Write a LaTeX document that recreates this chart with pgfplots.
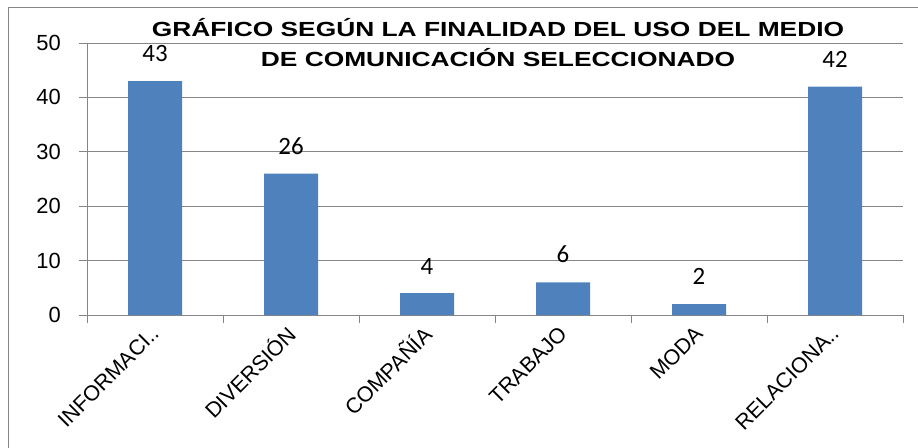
\documentclass[border=0pt]{standalone}
\usepackage{fontspec}
\setmainfont{Liberation Sans}
\newfontfamily\carlito{Carlito}
\usepackage{graphicx}
\usepackage{pgfplots}
\pgfplotsset{compat=1.18}
\definecolor{barblue}{HTML}{4F81BD}
\definecolor{axgray}{HTML}{868686}
\begin{document}
\begin{tikzpicture}[x=1bp,y=1bp]
\useasboundingbox (0,0) rectangle (918,-448);
\draw[axgray, line width=1bp] (8,-448) -- (8,-8) -- (918,-8);
\begin{axis}[
  at={(87bp,-315bp)}, anchor=south west,
  scale only axis, width=816bp, height=272bp,
  xmin=-0.5, xmax=5.5, ymin=0, ymax=50,
  axis x line*=bottom, axis y line*=left,
  axis line style={axgray, line width=1bp, -},
  /pgf/number format/assume math mode=true,
  xtick={-0.5,0.5,...,5.5},
  xticklabels={},
  extra x ticks={0,1,2,3,4,5},
  extra x tick labels={INFORMACI..,DIVERSIÓN,COMPAÑÍA,TRABAJO,MODA,RELACIONA..},
  extra x tick style={major tick length=0pt},
  xticklabel style={font=\fontsize{21.5}{21.5}\selectfont, inner sep=0pt, anchor=east, xshift=0bp, yshift=-15bp, rotate=45},
  ytick={0,10,...,50},
  yticklabel style={font=\fontsize{22}{22}\selectfont, inner sep=0pt, anchor=east, xshift=-18bp},
  ymajorgrids, major grid style={axgray, line width=1bp},
  tick align=outside, major tick length=8bp,
  tick style={axgray, line width=1bp},
  ybar, bar width=54bp,
  nodes near coords,
  every node near coord/.append style={font=\carlito\fontsize{25}{25}\selectfont, text=black, anchor=south, inner sep=0pt, yshift=19bp},
]
\addplot[fill=barblue, draw=none] coordinates {(0,43) (1,26) (2,4) (3,6) (4,2) (5,42)};
\end{axis}
\node[anchor=base, font=\bfseries\fontsize{20.5}{24}\selectfont] at (498,-37) {\scalebox{1.29}[1]{GRÁFICO SEGÚN LA FINALIDAD DEL USO DEL MEDIO}};
\node[anchor=base, font=\bfseries\fontsize{20.5}{24}\selectfont] at (498,-67) {\scalebox{1.29}[1]{DE COMUNICACIÓN SELECCIONADO}};
\end{tikzpicture}
\end{document}
